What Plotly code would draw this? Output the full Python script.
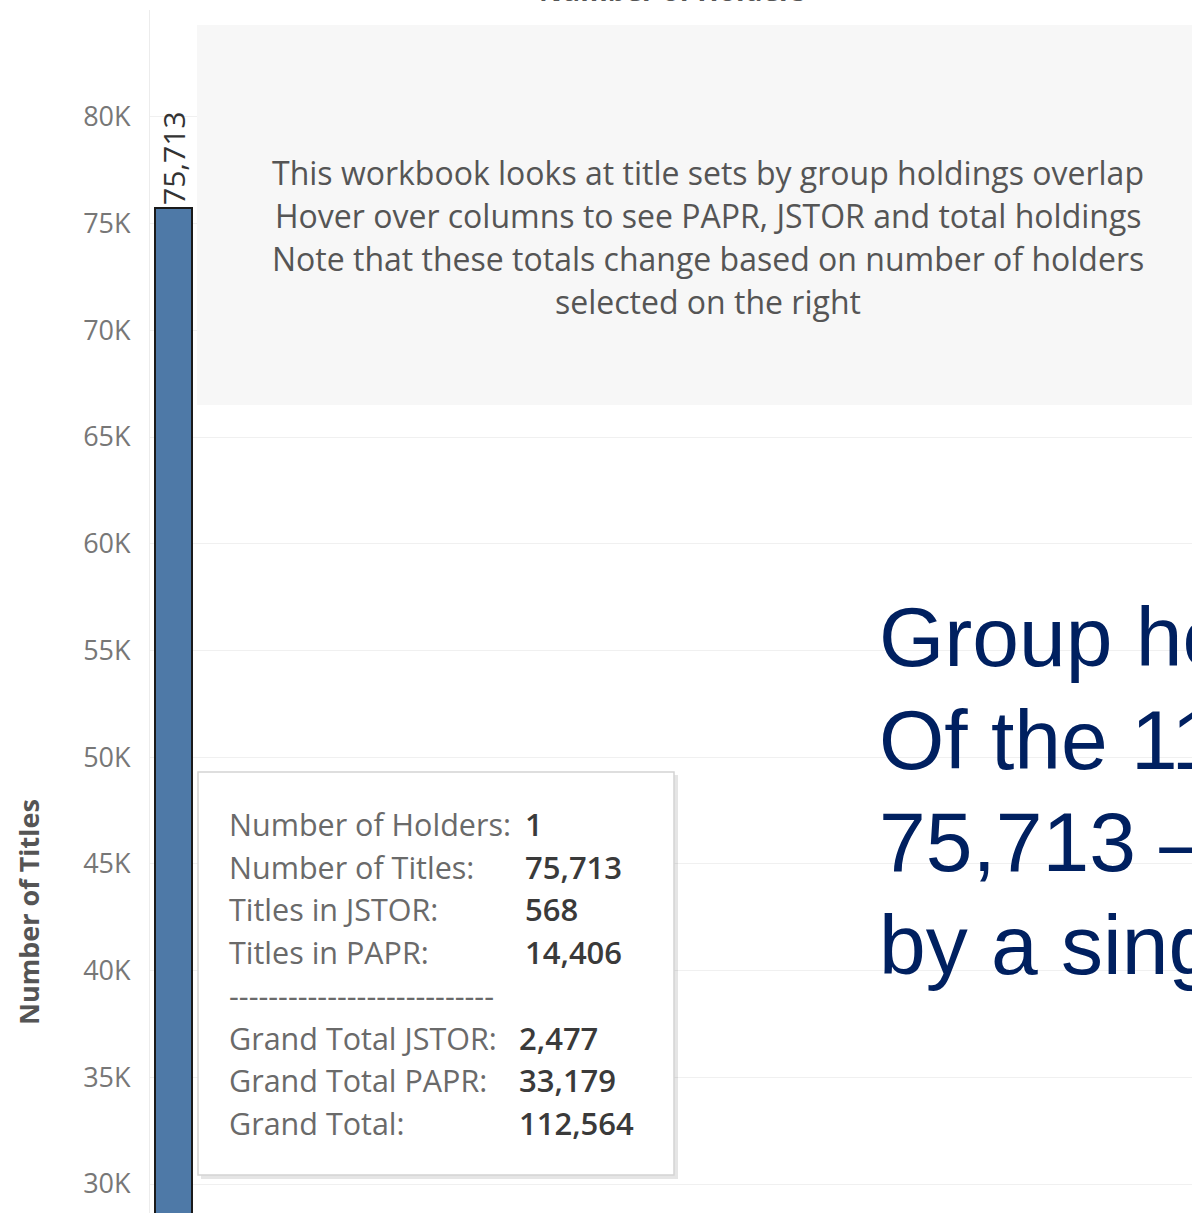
import plotly.graph_objects as go

# ---- data ----
holders = [1]
titles = [75713]
bar_labels = ["75,713"]
tick_vals = [30000, 35000, 40000, 45000, 50000, 55000, 60000, 65000, 70000, 75000, 80000]
tick_text = ["30K", "35K", "40K", "45K", "50K", "55K", "60K", "65K", "70K", "75K", "80K"]
note_lines = [
    "This workbook looks at title sets by group holdings overlap",
    "Hover over columns to see PAPR, JSTOR and total holdings",
    "Note that these totals change based on number of holders",
    "selected on the right",
]
tip_labels = ["Number of Holders:", "Number of Titles:", "Titles in JSTOR:", "Titles in PAPR:",
              "---------------------------", "Grand Total JSTOR:", "Grand Total PAPR:", "Grand Total:"]
tip_values = ["1", "75,713", "568", "14,406", "", "2,477", "33,179", "112,564"]
big_lines = ["Group holdings overlap", "Of the 112,564 titles held,", "75,713 \u2013 67% \u2013 are held",
             "by a single library"]
top_title = "Number of Holders"

W, H = 1192, 1213
ML, MR, MT, MB = 150, 0, 10, 0
PW, PH = W - ML - MR, H - MT - MB


def px(x):
    return (x - ML) / PW


def py(y):
    return 1 - (y - MT) / PH


FONT = "Open Sans"

fig = go.Figure()
fig.add_trace(go.Bar(
    x=holders, y=titles, width=1,
    marker=dict(color="#4e79a7", line=dict(color="#1a1a1a", width=2)),
    text=bar_labels, textposition="outside", textangle=-90,
    textfont=dict(family=FONT, size=30, color="#333333"),
    cliponaxis=False, hoverinfo="skip", constraintext="none",
))

shapes = []
# grey note box
shapes.append(dict(type="rect", xref="paper", yref="paper", x0=px(197), x1=px(1200), y0=py(405), y1=py(25),
                   fillcolor="#f7f7f7", line=dict(width=0), layer="above"))
# tooltip shadow + box
shapes.append(dict(type="rect", xref="paper", yref="paper", x0=px(201), x1=px(678), y0=py(1179), y1=py(775),
                   fillcolor="rgba(0,0,0,0.10)", line=dict(width=0), layer="above"))
shapes.append(dict(type="rect", xref="paper", yref="paper", x0=px(198), x1=px(674), y0=py(1175), y1=py(772),
                   fillcolor="#ffffff", line=dict(color="#d4d4d4", width=1.5), layer="above"))

ann = []
for i, t in enumerate(note_lines):
    ann.append(dict(text=t, xref="paper", yref="paper", x=px(708), y=py(172 + i * 43), xanchor="center",
                    yanchor="middle", showarrow=False, font=dict(family=FONT, size=32, color="#555555")))
for i, (lab, val) in enumerate(zip(tip_labels, tip_values)):
    yy = py(824 + i * 42.7)
    ann.append(dict(text=lab, xref="paper", yref="paper", x=px(227), y=yy, xanchor="left", yanchor="middle",
                    showarrow=False, font=dict(family=FONT, size=30.5, color="#6a6a6a")))
    if val:
        vx = 523 if i < 4 else 517
        ann.append(dict(text=val, xref="paper", yref="paper", x=px(vx), y=yy, xanchor="left", yanchor="middle",
                        showarrow=False, font=dict(family=FONT, size=31, color="#3a3a3a", weight=600)))
for i, t in enumerate(big_lines):
    ann.append(dict(text=t, xref="paper", yref="paper", x=px(877), y=py(637 + i * 102.5), xanchor="left",
                    yanchor="middle", showarrow=False,
                    font=dict(family="Liberation Sans", size=84, color="#002060")))
ann.append(dict(text="<b>Number of Titles</b>", xref="paper", yref="paper", x=px(28), y=py(912), textangle=-90,
                xanchor="center", yanchor="middle", showarrow=False,
                font=dict(family=FONT, size=27, color="#555555")))
ann.append(dict(text="<b>" + top_title + "</b>", xref="paper", yref="paper", x=px(672), y=py(11),
                xanchor="center", yanchor="bottom", showarrow=False,
                font=dict(family=FONT, size=28, color="#555555")))

fig.update_layout(
    width=W, height=H,
    margin=dict(l=ML, r=MR, t=MT, b=MB, pad=0),
    paper_bgcolor="#ffffff", plot_bgcolor="#ffffff",
    showlegend=False,
    shapes=shapes, annotations=ann,
    xaxis=dict(range=[1 - 23.5 / 37, 1 - 23.5 / 37 + PW / 37], visible=False, fixedrange=True),
    yaxis=dict(range=[28642, 85009], tickvals=tick_vals, ticktext=tick_text,
               tickfont=dict(family=FONT, size=27, color="#777777"),
               showgrid=True, gridcolor="#f0f0f0", gridwidth=1, zeroline=False,
               showline=True, linecolor="#ececec", linewidth=1, ticks="", ticklabelstandoff=13),
    bargap=0,
)
fig.write_html("out.html", config={"displayModeBar": False},
               post_script="document.body.style.margin='0';document.body.style.overflow='hidden';")
